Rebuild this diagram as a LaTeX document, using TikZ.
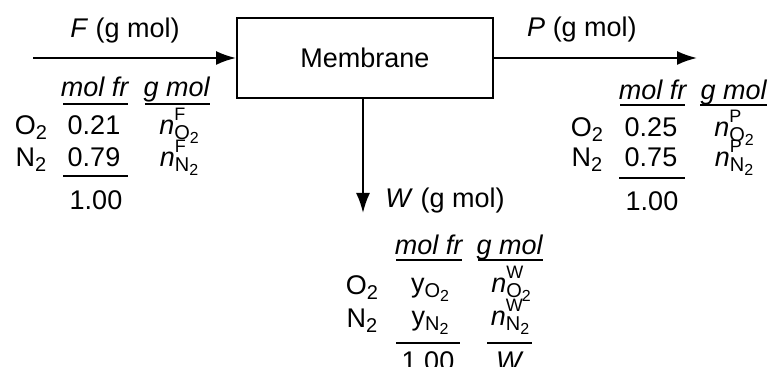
\documentclass[tikz,border=0pt]{standalone}
\usepackage{fontspec}
\setmainfont{Liberation Sans}
\usetikzlibrary{arrows.meta}

\newcommand{\sbs}[1]{\raisebox{-0.3ex}{\fontsize{10}{10}\selectfont #1}}
\newcommand{\chm}[1]{\raisebox{-0.35ex}{\fontsize{10}{10}\selectfont #1\raisebox{-0.3ex}{\fontsize{8}{8}\selectfont 2}}}
\newcommand{\nsp}[2]{\textit{n}\rlap{\raisebox{1.0ex}{\fontsize{9}{9}\selectfont #1}}\chm{#2}}

\begin{document}
\begin{tikzpicture}[x = 0.5pt, y = -0.5pt, font = \fontsize{13.5}{16}\selectfont,
    lbl/.style = {inner sep = 0pt, anchor = base},
    flow/.style = {line width = 1pt, -{Latex[length = 10pt, width = 7pt]}},
    rule/.style = {line width = 1.1pt}]
        \useasboundingbox (0,0) rectangle (773,367);
        \node[draw, line width = 1pt, minimum width = 128pt, minimum height = 40pt, inner sep = 0pt] (mem) at (365,58) {Membrane};
        \coordinate (fin) at (33,58);
        \coordinate (pout) at (697,58);
        \coordinate (wout) at (363,213);
        \draw[flow] (fin) -- (mem);
        \draw[flow] (mem) -- (pout);
        \draw[flow] (mem.south -| wout) -- (wout);
        \node[lbl] (Flab) at (125,38) {\textit{F} (g mol)};
        \node[lbl] (Plab) at (582,37) {\textit{P} (g mol)};
        \node[lbl] (Wlab) at (445,208) {\textit{W} (g mol)};
        \node[lbl] (molfrF) at (95,97) {\textit{mol fr}};
        \node[lbl] (gmolF) at (177,97) {\textit{g mol}};
        \node[lbl] (oF) at (31,135) {O\sbs{2}};
        \node[lbl] (xoF) at (94,135) {0.21};
        \node[lbl] (noF) at (179,135) {\nsp{F}{O}};
        \node[lbl] (nF) at (31,167) {N\sbs{2}};
        \node[lbl] (xnF) at (94,167) {0.79};
        \node[lbl] (nnF) at (179,167) {\nsp{F}{N}};
        \node[lbl] (sumF) at (96,210) {1.00};
        \node[lbl] (molfrP) at (653,100) {\textit{mol fr}};
        \node[lbl] (gmolP) at (734,100) {\textit{g mol}};
        \node[lbl] (oP) at (587,137) {O\sbs{2}};
        \node[lbl] (xoP) at (651,137) {0.25};
        \node[lbl] (noP) at (734,137) {\nsp{P}{O}};
        \node[lbl] (nP) at (587,167) {N\sbs{2}};
        \node[lbl] (xnP) at (651,167) {0.75};
        \node[lbl] (nnP) at (734,167) {\nsp{P}{N}};
        \node[lbl] (sumP) at (652,211) {1.00};
        \node[lbl] (molfrW) at (429,255) {\textit{mol fr}};
        \node[lbl] (gmolW) at (510,255) {\textit{g mol}};
        \node[lbl] (oW) at (362,295) {O\sbs{2}};
        \node[lbl] (yoW) at (430,293) {y\chm{O}};
        \node[lbl] (noW) at (511,293) {\nsp{W}{O}};
        \node[lbl] (nW) at (362,328) {N\sbs{2}};
        \node[lbl] (ynW) at (430,326) {y\chm{N}};
        \node[lbl] (nnW) at (510,326) {\nsp{W}{N}};
        \node[lbl] (sumW) at (428,371) {1.00};
        \node[lbl] (totW) at (510,371) {\textit{W}};
        \draw[rule] (63,104) -- (128,104);
        \draw[rule] (145,104) -- (210,104);
        \draw[rule] (63,176) -- (128,176);
        \draw[rule] (620,105) -- (685,105);
        \draw[rule] (700,105) -- (767,105);
        \draw[rule] (619,178) -- (685,178);
        \draw[rule] (396,260) -- (462,260);
        \draw[rule] (478,260) -- (543,260);
        \draw[rule] (396,343) -- (460,343);
        \draw[rule] (487,343) -- (532,343);
      \end{tikzpicture}
\end{document}
